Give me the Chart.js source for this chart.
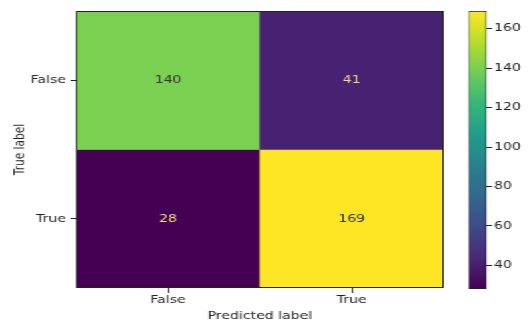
<!DOCTYPE html>
<html>
<head>
<meta charset="utf-8">
<script src="https://cdn.jsdelivr.net/npm/chart.js@4/dist/chart.umd.min.js"></script>
<style>
  html, body { margin: 0; padding: 0; background: #ffffff; overflow: hidden; }
  /* the figure is laid out at 397px wide and widened to fill 529px */
  #wrap { position: relative; width: 397px; height: 320px;
          transform: scaleX(1.33249); transform-origin: 0 0; }
  #matrix { position: absolute; left: 0; top: 0; }
  #cbar { position: absolute; left: 330px; top: 0; }
</style>
</head>
<body>
<div id="wrap">
  <canvas id="matrix" width="397" height="320"></canvas>
  <canvas id="cbar" width="67" height="320"></canvas>
</div>
<script>
// Confusion matrix: rows are true labels, columns are predicted labels
const predictedLabels = ['False', 'True'];
const trueLabels = ['False', 'True'];
const rowFalse = [140, 41];
const rowTrue = [28, 169];
const counts = [rowFalse, rowTrue];
const colorbarTicks = [40, 60, 80, 100, 120, 140, 160];

const FONT = { family: 'DejaVu Sans', size: 10.6 };
const INK = '#222222';

// viridis colormap sampled at ten evenly spaced stops
const VIRIDIS = ['#440154', '#482878', '#3e4989', '#31688e', '#26828e',
                 '#1f9e89', '#35b779', '#6ece58', '#b5de2b', '#fde725'];
function hexToRgb(h) {
  return [parseInt(h.slice(1, 3), 16), parseInt(h.slice(3, 5), 16), parseInt(h.slice(5, 7), 16)];
}
function viridis(t) {
  t = Math.max(0, Math.min(1, t));
  const pos = t * (VIRIDIS.length - 1);
  const i = Math.min(Math.floor(pos), VIRIDIS.length - 2);
  const f = pos - i;
  const a = hexToRgb(VIRIDIS[i]), b = hexToRgb(VIRIDIS[i + 1]);
  const c = a.map((v, k) => Math.round(v + (b[k] - v) * f));
  return `rgb(${c[0]},${c[1]},${c[2]})`;
}

const allValues = counts.flat();
const vMin = Math.min(...allValues);
const vMax = Math.max(...allValues);
const norm = v => (v - vMin) / (vMax - vMin);

// one dataset per true-label row; each cell is a floating bar spanning its row
const datasets = counts.map((row, i) => ({
  label: trueLabels[i],
  data: row.map(() => [i, i + 1]),
  backgroundColor: row.map(v => viridis(norm(v))),
  borderWidth: 0,
  barPercentage: 1,
  categoryPercentage: 1
}));

const cellText = {
  id: 'cellText',
  afterDatasetsDraw(chart) {
    const { ctx, scales: { x, y }, chartArea } = chart;
    ctx.save();
    ctx.font = `${FONT.size}px ${FONT.family}`;
    ctx.textAlign = 'center';
    ctx.textBaseline = 'middle';
    counts.forEach((row, i) => {
      row.forEach((v, j) => {
        ctx.fillStyle = norm(v) < 0.5 ? '#f3dc7a' : '#3a2f3a';
        ctx.fillText(String(v), x.getPixelForValue(j), y.getPixelForValue(i + 0.5));
      });
    });
    ctx.strokeStyle = INK;
    ctx.lineWidth = 1;
    ctx.strokeRect(chartArea.left + 0.5, chartArea.top + 0.5,
                   chartArea.width - 1, chartArea.height - 1);
    ctx.restore();
  }
};

new Chart(document.getElementById('matrix'), {
  type: 'bar',
  data: { labels: predictedLabels, datasets },
  options: {
    responsive: false,
    animation: false,
    layout: { padding: { left: 0, top: 11, right: 64, bottom: 0 } },
    plugins: { legend: { display: false }, tooltip: { enabled: false } },
    scales: {
      x: {
        stacked: true,
        grid: { display: true, drawOnChartArea: false, offset: false, tickLength: 5, color: INK },
        border: { display: false },
        ticks: { color: INK, font: FONT, padding: 1, maxRotation: 0 },
        title: { display: true, text: 'Predicted label', color: INK, font: FONT, padding: { top: 0, bottom: -3 } },
        afterFit(s) { s.height = 32; }
      },
      y: {
        type: 'linear',
        stacked: false,
        min: 0, max: 2, reverse: true,
        grid: { display: true, drawOnChartArea: false, tickLength: 4, color: INK },
        border: { display: false },
        afterBuildTicks(s) { s.ticks = trueLabels.map((_, i) => ({ value: i + 0.5 })); },
        ticks: {
          color: INK, font: FONT, padding: 3.5,
          callback: (v) => trueLabels[Math.floor(v)]
        },
        title: { display: true, text: 'True label', color: INK, font: FONT, padding: { top: 8.5, bottom: 0 } },
        afterFit(s) { s.width = 57; }
      }
    }
  },
  plugins: [cellText]
});

// colour bar: one floating bar spanning the data range, filled with the colormap
new Chart(document.getElementById('cbar'), {
  type: 'bar',
  data: {
    labels: [''],
    datasets: [{
      data: [[vMin, vMax]],
      backgroundColor(ctx) {
        const area = ctx.chart.chartArea;
        if (!area) return VIRIDIS[0];
        const ys = ctx.chart.scales.y;
        const g = ctx.chart.ctx.createLinearGradient(0, ys.getPixelForValue(vMin), 0, ys.getPixelForValue(vMax));
        VIRIDIS.forEach((c, k) => g.addColorStop(k / (VIRIDIS.length - 1), c));
        return g;
      },
      borderColor: INK,
      borderWidth: 1,
      borderSkipped: false,
      barPercentage: 1,
      categoryPercentage: 1
    }]
  },
  options: {
    responsive: false,
    animation: false,
    layout: { padding: { left: 21.6, top: 11, right: 0, bottom: 31 } },
    plugins: { legend: { display: false }, tooltip: { enabled: false } },
    scales: {
      x: { display: false },
      y: {
        position: 'right',
        min: vMin, max: vMax,
        grid: { display: true, drawOnChartArea: false, tickLength: 4, color: INK },
        border: { display: false },
        afterBuildTicks(s) { s.ticks = colorbarTicks.map(v => ({ value: v })); },
        ticks: { color: INK, font: FONT, padding: 1.5 },
        afterFit(s) { s.width = 31.7; }
      }
    }
  }
});
</script>
</body>
</html>
